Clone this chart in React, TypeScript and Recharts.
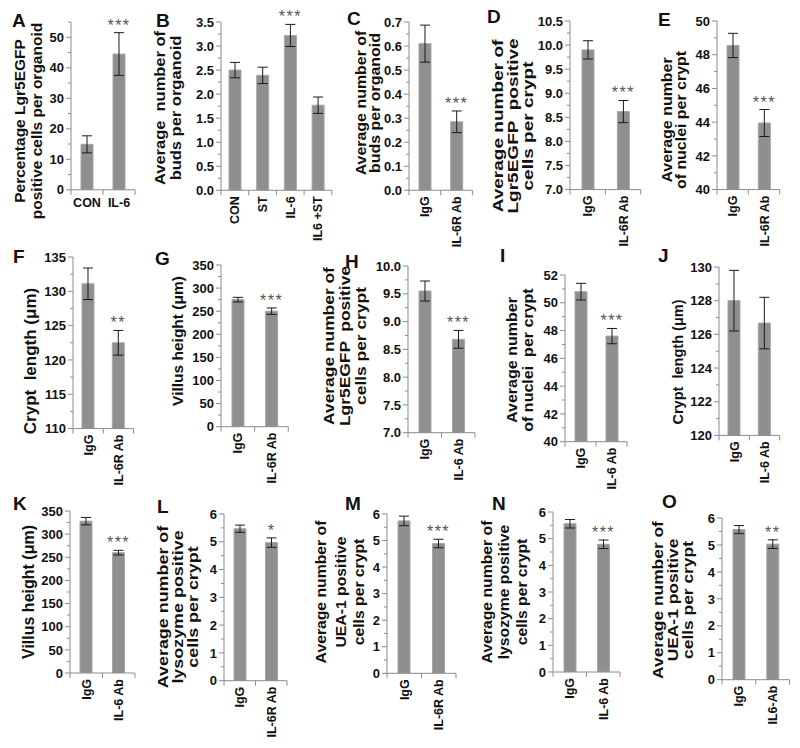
import React from "react";
import { Bar, BarChart, ErrorBar, LabelList, XAxis, YAxis } from "recharts";

const FONT = "'Liberation Sans', Arial, Helvetica, sans-serif";
const BAR_FILL = "#8f8f8f";
const BAR_EDGE = "#a6a6a6";
const AXIS = "#8c8c8c";
const INK = "#111111";
const STAR = "#555555";

// categories
const catsA = ["CON", "IL-6"];
const catsB = ["CON", "ST", "IL-6", "IL6 +ST"];
const cats6R = ["IgG", "IL-6R Ab"];
const cats6 = ["IgG", "IL-6 Ab"];
const catsO = ["IgG", "IL6-Ab"];

// means and error (SEM)
const meanA = [14.9, 44.5];
const errA = [2.8, 7.0];
const meanB = [2.5, 2.39, 3.22, 1.77];
const errB = [0.16, 0.17, 0.23, 0.17];
const meanC = [0.61, 0.285];
const errC = [0.077, 0.045];
const meanD = [9.9, 8.62];
const errD = [0.19, 0.23];
const meanE = [48.55, 43.95];
const errE = [0.72, 0.8];
const meanF = [131.1, 122.5];
const errF = [2.3, 1.8];
const meanG = [275, 250];
const errG = [5, 7];
const meanH = [9.55, 8.68];
const errH = [0.18, 0.16];
const meanI = [50.8, 47.6];
const errI = [0.6, 0.55];
const meanJ = [128, 126.67];
const errJ = [1.8, 1.53];
const meanK = [328, 260];
const errK = [8, 5];
const meanL = [5.47, 4.97];
const errL = [0.13, 0.17];
const meanM = [5.74, 4.89];
const errM = [0.18, 0.16];
const meanN = [5.56, 4.79];
const errN = [0.16, 0.16];
const meanO = [5.57, 5.03];
const errO = [0.15, 0.16];

// significance marks
const starsA = ["", "***"];
const starsB = ["", "", "***", ""];
const stars3 = ["", "***"];
const stars2 = ["", "**"];
const stars1 = ["", "*"];
const starsNone = ["", ""];

// y tick labels
const ticksA = ["0", "10", "20", "30", "40", "50"];
const ticksB = ["0.0", "0.5", "1.0", "1.5", "2.0", "2.5", "3.0", "3.5"];
const ticksC = ["0.0", "0.1", "0.2", "0.3", "0.4", "0.5", "0.6", "0.7"];
const ticksD = ["7.0", "7.5", "8.0", "8.5", "9.0", "9.5", "10.0", "10.5"];
const ticksE = ["40", "42", "44", "46", "48", "50"];
const ticksF = ["110", "115", "120", "125", "130", "135"];
const ticksVillus = ["0", "50", "100", "150", "200", "250", "300", "350"];
const ticksH = ["7.0", "7.5", "8.0", "8.5", "9.0", "9.5", "10.0"];
const ticksI = ["40", "42", "44", "46", "48", "50", "52"];
const ticksJ = ["120", "122", "124", "126", "128", "130"];
const ticksCells = ["0", "1", "2", "3", "4", "5", "6"];

const domA = [0, 55];

// ax/ar: x-axis span, yt/yb: y-axis span, lx/ly: panel letter,
// tx/ty: title line centres, ts/tw: title font size and stretch along the text
type Geo = {
  ax: number;
  ar: number;
  yt: number;
  yb: number;
  lx: number;
  ly: number;
  tx: number[];
  ty: number;
  ts: number;
  tw: number;
};

type PanelDef = {
  letter: string;
  cats: string[];
  means: number[];
  errs: number[];
  stars: string[];
  ticks: string[];
  domain?: number[];
  title: string[];
  flat?: boolean;
  g: Geo;
};

const panels: PanelDef[] = [
  { letter: "A", cats: catsA, means: meanA, errs: errA, stars: starsA, ticks: ticksA, domain: domA, flat: true,
    title: ["Percentage Lgr5EGFP", "positive cells per organoid"],
    g: { ax: 71, ar: 135, yt: 21.5, yb: 189.3, lx: 12, ly: 27, tx: [19, 36], ty: 121, ts: 15.5, tw: 1.0 } },
  { letter: "B", cats: catsB, means: meanB, errs: errB, stars: starsB, ticks: ticksB,
    title: ["Average  number of", "buds per organoid"],
    g: { ax: 220.7, ar: 331.5, yt: 21.7, yb: 190, lx: 156, ly: 27, tx: [160, 176], ty: 108, ts: 15, tw: 1.1 } },
  { letter: "C", cats: cats6R, means: meanC, errs: errC, stars: stars3, ticks: ticksC,
    title: ["Average number of", "buds per organoid"],
    g: { ax: 409.3, ar: 472.7, yt: 21.7, yb: 190, lx: 347, ly: 25, tx: [361, 375], ty: 103, ts: 14.5, tw: 1.1 } },
  { letter: "D", cats: cats6R, means: meanD, errs: errD, stars: stars3, ticks: ticksD,
    title: ["Average number of", "Lgr5EGFP  positive", "cells per crypt"],
    g: { ax: 570, ar: 640.8, yt: 20.7, yb: 189.3, lx: 487, ly: 23, tx: [498, 513, 528], ty: 126, ts: 14, tw: 1.36 } },
  { letter: "E", cats: cats6R, means: meanE, errs: errE, stars: stars3, ticks: ticksE,
    title: ["Average number", "of nuclei per crypt"],
    g: { ax: 717.3, ar: 780, yt: 20.7, yb: 189.3, lx: 658, ly: 26, tx: [667, 681], ty: 120, ts: 14.5, tw: 1.1 } },
  { letter: "F", cats: cats6R, means: meanF, errs: errF, stars: stars2, ticks: ticksF,
    title: ["Crypt  length (\u03bcm)"],
    g: { ax: 72.7, ar: 133.3, yt: 256.7, yb: 428.3, lx: 13, ly: 263, tx: [30], ty: 361, ts: 17, tw: 1.0 } },
  { letter: "G", cats: cats6R, means: meanG, errs: errG, stars: stars3, ticks: ticksVillus,
    title: ["Villus height (\u03bcm)"],
    g: { ax: 221, ar: 288.3, yt: 265, yb: 426.7, lx: 155, ly: 265, tx: [177], ty: 341, ts: 15.5, tw: 1.0 } },
  { letter: "H", cats: cats6, means: meanH, errs: errH, stars: stars3, ticks: ticksH,
    title: ["Average number of", "Lgr5EGFP  positive", "cells per crypt"],
    g: { ax: 408, ar: 475, yt: 266, yb: 432.7, lx: 345, ly: 268, tx: [329, 345, 361], ty: 346, ts: 14.5, tw: 1.2 } },
  { letter: "I", cats: cats6, means: meanI, errs: errI, stars: stars3, ticks: ticksI,
    title: ["Average number", "of nuclei  per crypt"],
    g: { ax: 565, ar: 627, yt: 275, yb: 441.7, lx: 500, ly: 262, tx: [512, 527.5], ty: 360, ts: 15, tw: 1.07 } },
  { letter: "J", cats: cats6, means: meanJ, errs: errJ, stars: starsNone, ticks: ticksJ,
    title: ["Crypt  length (\u03bcm)"],
    g: { ax: 719.3, ar: 780, yt: 267.3, yb: 435.7, lx: 658, ly: 262, tx: [678], ty: 362, ts: 15, tw: 0.97 } },
  { letter: "K", cats: cats6, means: meanK, errs: errK, stars: stars3, ticks: ticksVillus,
    title: ["Villus height (\u03bcm)"],
    g: { ax: 70, ar: 135, yt: 510.7, yb: 672.7, lx: 13, ly: 510, tx: [28.3], ty: 592, ts: 16, tw: 1.0 } },
  { letter: "L", cats: cats6R, means: meanL, errs: errL, stars: stars1, ticks: ticksCells,
    title: ["Average number of", "lysozyme positive", "cells per crypt"],
    g: { ax: 224, ar: 287, yt: 514, yb: 680.7, lx: 157, ly: 513, tx: [163, 178, 193], ty: 607, ts: 14, tw: 1.28 } },
  { letter: "M", cats: cats6R, means: meanM, errs: errM, stars: stars3, ticks: ticksCells,
    title: ["Average number of", "UEA-1 positive", "cells per crypt"],
    g: { ax: 387, ar: 456, yt: 514, yb: 673.3, lx: 345, ly: 510, tx: [321, 341, 359], ty: 592, ts: 15, tw: 1.05 } },
  { letter: "N", cats: cats6, means: meanN, errs: errN, stars: stars3, ticks: ticksCells,
    title: ["Average number of", "lysozyme positive", "cells per crypt"],
    g: { ax: 553, ar: 620, yt: 511.7, yb: 671.7, lx: 492, ly: 510, tx: [487, 504, 522], ty: 592, ts: 15, tw: 1.05 } },
  { letter: "O", cats: catsO, means: meanO, errs: errO, stars: stars2, ticks: ticksCells,
    title: ["Average number of", "UEA-1 positive", "cells per crypt"],
    g: { ax: 721.7, ar: 789.3, yt: 518.3, yb: 680, lx: 662, ly: 508, tx: [658, 673, 688], ty: 600, ts: 14.5, tw: 1.2 } },
];

const MT = 24;
const YW = 44;
const XH = 64;
const MR = 2;

function Panel({ def }: { def: PanelDef }) {
  const g = def.g;
  const rows = def.cats.map((c, i) => ({
    cat: c,
    mean: def.means[i],
    err: def.errs[i],
    star: def.stars[i],
  }));
  const majors = def.ticks.map(Number);
  const lo = def.domain ? def.domain[0] : majors[0];
  const hi = def.domain ? def.domain[1] : majors[majors.length - 1];
  const plotW = g.ar - g.ax;
  const plotH = g.yb - g.yt;
  const step = plotW / rows.length;
  const pxPerUnit = plotH / (hi - lo);
  const half = (majors[1] - majors[0]) / 2;
  const allTicks = [...majors];
  for (let v = lo + half; v <= hi + 1e-9; v += 2 * half) allTicks.push(+v.toFixed(6));

  const yTick = (p: any) => {
    const { x, y, payload } = p;
    const idx = majors.findIndex((m) => Math.abs(m - payload.value) < 1e-6);
    const isMajor = idx >= 0;
    return (
      <g>
        <line x1={x - (isMajor ? 5 : 3)} x2={x} y1={y} y2={y} stroke={AXIS} />
        {isMajor && (
          <text x={x - 7} y={y} dy="0.36em" textAnchor="end" fontFamily={FONT} fontWeight="bold" fontSize={13} fill={INK}>
            {def.ticks[idx]}
          </text>
        )}
      </g>
    );
  };

  const xTick = (p: any) => {
    const { x, y, payload, index } = p;
    return (
      <g>
        <line x1={x + step / 2} x2={x + step / 2} y1={y} y2={y + 5} stroke={AXIS} />
        {index === 0 && <line x1={x - step / 2} x2={x - step / 2} y1={y} y2={y + 5} stroke={AXIS} />}
        {def.flat ? (
          <text x={x} y={y + 17} textAnchor="middle" fontFamily={FONT} fontWeight="bold" fontSize={12.5} fill={INK}>
            {payload.value}
          </text>
        ) : (
          <text
            transform={`translate(${x},${y + 6}) rotate(-90)`}
            dy="0.36em"
            textAnchor="end"
            fontFamily={FONT}
            fontWeight="bold"
            fontSize={12.5}
            fill={INK}
          >
            {payload.value}
          </text>
        )}
      </g>
    );
  };

  const starLabel = (p: any) => {
    const vb = p.viewBox || p;
    const row = rows[p.index] ?? rows.find((r) => r.star === p.value);
    if (!p.value || !row) return null;
    const top = vb.y - row.err * pxPerUnit;
    return (
      <text x={vb.x + vb.width / 2} y={top - 2} textAnchor="middle" fontFamily={FONT} fontSize={16} letterSpacing={1.5} fill={STAR}>
        {p.value}
      </text>
    );
  };

  const width = YW + plotW + MR;
  const height = MT + plotH + XH;
  return (
    <div style={{ position: "absolute", left: g.ax - YW, top: g.yt - MT }}>
      <BarChart width={width} height={height} data={rows} margin={{ top: MT, right: MR, left: 0, bottom: 0 }}>
        <XAxis dataKey="cat" interval={0} height={XH} tickSize={0} tickMargin={0} tickLine={false} tick={xTick} axisLine={{ stroke: AXIS }} />
        <YAxis
          type="number"
          domain={[lo, hi]}
          allowDataOverflow
          ticks={allTicks}
          interval={0}
          width={YW}
          tickSize={0}
          tickMargin={0}
          tickLine={false}
          tick={yTick}
          axisLine={{ stroke: AXIS }}
        />
        <Bar dataKey="mean" fill={BAR_FILL} stroke={BAR_EDGE} strokeWidth={1} barSize={12} isAnimationActive={false}>
          <ErrorBar dataKey="err" width={5} stroke="#1a1a1a" strokeWidth={1} isAnimationActive={false} />
          <LabelList dataKey="star" content={starLabel} />
        </Bar>
      </BarChart>
    </div>
  );
}

export default function App() {
  return (
    <div style={{ position: "absolute", left: 0, top: 0, width: 800, height: 748, background: "#fff", fontFamily: FONT }}>
      <svg width={800} height={748} style={{ position: "absolute", left: 0, top: 0 }}>
        {panels.map((p) => (
          <g key={p.letter}>
            <text x={p.g.lx} y={p.g.ly} fontFamily={FONT} fontWeight="bold" fontSize={19} fill={INK}>
              {p.letter}
            </text>
            {p.title.map((line, i) => (
              <text
                key={i}
                transform={`translate(${p.g.tx[i]},${p.g.ty}) rotate(-90) scale(${p.g.tw},1)`}
                textAnchor="middle"
                dy="0.36em"
                fontFamily={FONT}
                fontWeight="bold"
                fontSize={p.g.ts}
                fill={INK}
                style={{ whiteSpace: "pre" }}
              >
                {line}
              </text>
            ))}
          </g>
        ))}
      </svg>
      {panels.map((p) => (
        <Panel key={p.letter} def={p} />
      ))}
    </div>
  );
}
